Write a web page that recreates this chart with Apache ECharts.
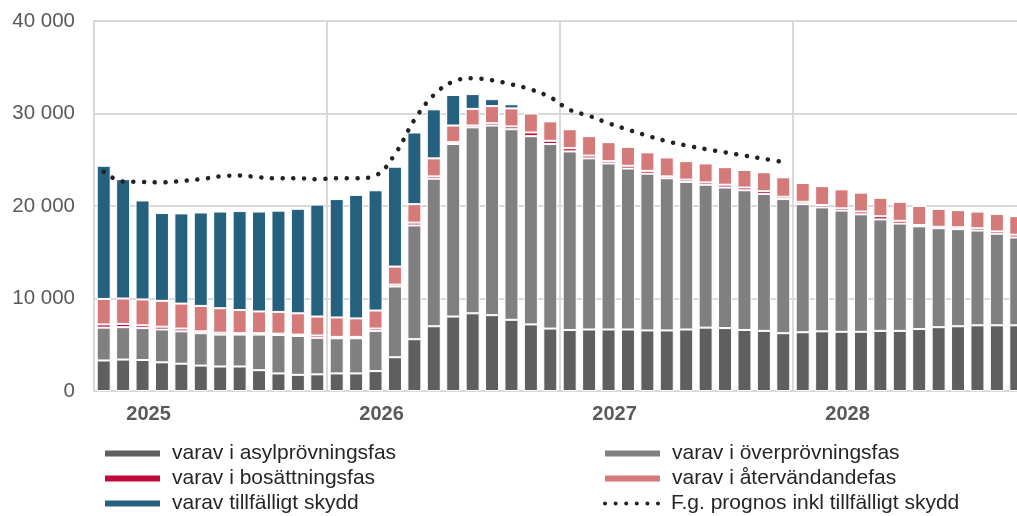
<!DOCTYPE html>
<html>
<head>
<meta charset="utf-8">
<script src="https://cdn.jsdelivr.net/npm/echarts@6/dist/echarts.min.js"></script>
<style>
  html, body { margin: 0; padding: 0; background: #fff; overflow: hidden; }
  #myChart { width: 1040px; height: 516px; }
</style>
</head>
<body>
<div id="myChart"></div>
<script>
// år och månader (jan 2025 - dec 2028)
var years = ["2025", "2026", "2027", "2028"];
var months = ["01", "02", "03", "04", "05", "06", "07", "08", "09", "10", "11", "12"];
var categories = [];
years.forEach(function (y) {
  months.forEach(function (m) {
    categories.push(y + "-" + m);
  });
});

var asyl = [3300, 3400, 3350, 3100, 2950, 2750, 2650, 2650, 2250, 1900, 1750, 1800,
  1900, 1900, 2150, 3650, 5600, 7000, 8050, 8400, 8200, 7700, 7200, 6750,
  6600, 6650, 6650, 6650, 6550, 6550, 6650, 6850, 6800, 6600, 6500, 6250,
  6350, 6450, 6400, 6400, 6500, 6500, 6700, 6900, 7000, 7100, 7100, 7100];

var overprovning = [3550, 3500, 3450, 3550, 3500, 3500, 3450, 3450, 3850, 4150, 4200, 3950,
  3800, 3800, 4350, 7650, 12300, 15950, 18650, 20100, 20500, 20600, 20350, 19950,
  19300, 18500, 17950, 17400, 16950, 16450, 15950, 15450, 15200, 15100, 14800, 14500,
  13850, 13400, 13100, 12700, 12050, 11600, 11100, 10700, 10500, 10250, 9900, 9500];

var bosattning = [350, 350, 300, 300, 300, 200, 200, 150, 150, 150, 150, 250,
  150, 150, 250, 200, 300, 250, 200, 200, 250, 300, 400, 350,
  350, 300, 250, 300, 300, 200, 250, 250, 300, 300, 300, 250,
  250, 250, 250, 300, 350, 300, 150, 150, 200, 250, 250, 300];

var atervandande = [2750, 2750, 2800, 2800, 2700, 2750, 2650, 2500, 2350, 2350, 2300, 2050,
  2100, 2000, 1950, 1950, 2000, 1950, 1800, 1800, 1850, 1950, 2050, 2100,
  2050, 2100, 2050, 2050, 2000, 2050, 2000, 2050, 1900, 1900, 2050, 2100,
  2050, 2050, 2050, 2050, 2000, 2050, 2050, 1950, 1850, 1800, 1900, 2000];

var skydd = [14400, 12900, 10700, 9500, 9750, 10100, 10450, 10700, 10800, 10950, 11300, 12100,
  12800, 13350, 13000, 10800, 7750, 5300, 3300, 1600, 750, 450, 0, 0,
  0, 0, 0, 0, 0, 0, 0, 0, 0, 0, 0, 0,
  0, 0, 0, 0, 0, 0, 0, 0, 0, 0, 0, 0];

// föregående prognos, jan 2025 - dec 2027
var prognos = [23700, 22650, 22600, 22550, 22700, 22900, 23200, 23300, 23100, 23000, 23000, 22900,
  23000, 23000, 23300, 25600, 29300, 32000, 33450, 33800, 33600, 33150, 32600, 31750,
  30400, 29750, 28950, 28250, 27600, 27000, 26550, 26150, 25800, 25450, 25100, 24750];

var yTicks = [0, 10000, 20000, 30000, 40000];

var names = {
  asyl: "varav i asylprövningsfas",
  over: "varav i överprövningsfas",
  bos: "varav i bosättningsfas",
  ater: "varav i återvändandefas",
  skydd: "varav tillfälligt skydd",
  prognos: "F.g. prognos inkl tillfälligt skydd"
};

function fmt(v) {
  return String(v).replace(/\B(?=(\d{3})+(?!\d))/g, " ");
}

function barSeries(name, data, color) {
  return {
    name: name,
    type: "bar",
    stack: "total",
    barWidth: 14,
    data: data,
    itemStyle: { color: color, borderColor: "#fff", borderWidth: 1 },
    emphasis: { disabled: true }
  };
}

// punktrad för linjens förklaring
var dotIcon = "path://" + [0, 10.5, 21, 31.5, 42, 52.5].map(function (x) {
  return "M" + x + ",2a2,2 0 1,0 4,0a2,2 0 1,0 -4,0z";
}).join("");

var legendText = { color: "#262626", fontSize: 21, lineHeight: 20, padding: [0, 0, 0, 6] };
function legendItem(name, x, y, icon) {
  return {
    left: x, top: y - 10, padding: 0,
    itemWidth: 57, itemHeight: icon ? 5 : 8,
    icon: icon || "rect",
    data: [name],
    textStyle: legendText
  };
}

var myChart = echarts.init(document.getElementById("myChart"));
var option = {
  animation: false,
  textStyle: { fontFamily: "Liberation Sans, Arial, sans-serif" },
  grid: { left: 94, top: 21, width: 932, bottom: 125 },
  legend: [
    legendItem(names.asyl, 103, 453),
    legendItem(names.bos, 103, 478),
    legendItem(names.skydd, 103, 503),
    legendItem(names.over, 603, 453),
    legendItem(names.ater, 603, 478),
    legendItem(names.prognos, 603, 503, dotIcon)
  ],
  xAxis: {
    type: "category",
    data: categories,
    boundaryGap: true,
    axisLine: { lineStyle: { color: "#d9d9d9", width: 2 } },
    axisTick: { show: false },
    splitLine: {
      show: true,
      interval: function (i) { return i % 12 === 0 && i > 0; },
      lineStyle: { color: "#d9d9d9", width: 2 }
    },
    axisLabel: {
      interval: function (i) { return i % 12 === 2; },
      formatter: function (v) { return v.slice(0, 4); },
      color: "#595959",
      fontSize: 20,
      fontWeight: "bold",
      margin: 13,
      padding: [0, 0, 0, 12]
    }
  },
  yAxis: {
    type: "value",
    min: 0,
    max: 40000,
    interval: 10000,
    axisLine: { show: true, lineStyle: { color: "#d9d9d9", width: 2 } },
    axisTick: { show: false },
    splitLine: { lineStyle: { color: "#d9d9d9", width: 2 } },
    axisLabel: {
      color: "#595959",
      fontSize: 20.5,
      margin: 19,
      formatter: function (v) { return yTicks.indexOf(v) >= 0 ? fmt(v) : ""; }
    }
  },
  series: [
    barSeries(names.asyl, asyl, "#5f5f5f"),
    barSeries(names.over, overprovning, "#808080"),
    barSeries(names.bos, bosattning, "#be0a3c"),
    barSeries(names.ater, atervandande, "#d47a78"),
    barSeries(names.skydd, skydd, "#25607f"),
    {
      name: names.prognos,
      type: "line",
      data: prognos,
      smooth: 0.4,
      symbol: "none",
      z: 5,
      itemStyle: { color: "#222" },
      lineStyle: { color: "#222", width: 4.5, type: [0.1, 10.6], cap: "round" },
      emphasis: { disabled: true }
    }
  ]
};

myChart.setOption(option);
</script>
</body>
</html>
